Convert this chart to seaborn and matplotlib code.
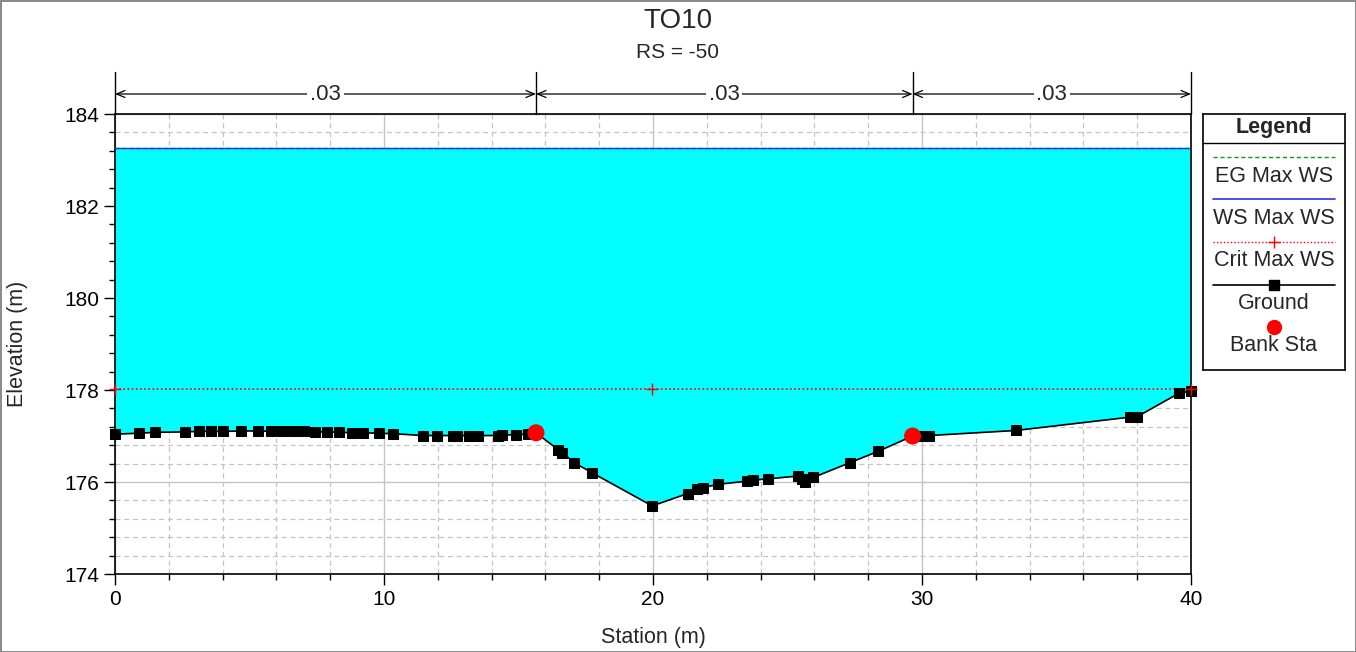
import numpy as np
import pandas as pd
import matplotlib
matplotlib.use("Agg")
import matplotlib.pyplot as plt
import seaborn as sns
from matplotlib.ticker import MultipleLocator
from matplotlib.transforms import blended_transform_factory

# ---------------- data ----------------
ground_sta = [0.00, 0.89, 1.49, 2.60, 3.12, 3.57, 4.03, 4.68, 5.33, 5.79, 6.22, 6.63, 7.04,
              7.45, 7.87, 8.33, 8.80, 9.23, 9.83, 10.35, 11.46, 11.96, 12.55, 12.70, 13.15,
              13.51, 14.23, 14.38, 14.91, 15.36, 15.65, 16.48, 16.63, 17.07, 17.74, 19.97,
              21.29, 21.62, 21.85, 22.43, 23.51, 23.71, 24.29, 25.40, 25.55, 25.65, 25.96,
              27.32, 28.38, 29.65, 29.95, 30.26, 33.48, 37.73, 38.00, 39.55, 40.00]
ground_elev = [177.04, 177.06, 177.08, 177.09, 177.10, 177.10, 177.10, 177.11, 177.11, 177.10,
               177.10, 177.10, 177.10, 177.09, 177.09, 177.08, 177.07, 177.07, 177.06, 177.05,
               177.01, 177.01, 177.01, 177.01, 177.01, 177.01, 177.01, 177.02, 177.03, 177.04,
               177.07, 176.70, 176.64, 176.42, 176.20, 175.48, 175.75, 175.84, 175.88, 175.95,
               176.02, 176.04, 176.07, 176.13, 176.07, 176.01, 176.10, 176.42, 176.67, 177.00,
               177.01, 177.01, 177.12, 177.41, 177.42, 177.93, 177.98]
bank_sta = [15.65, 29.65]
bank_elev = [177.07, 177.00]
ws_elev = 183.26
eg_elev = 183.27
crit_sta = [0.0, 19.97, 40.0]
crit_elev = [178.02, 178.02, 178.02]
mann_breaks = [0.0, 15.65, 29.65, 40.0]
mann_n = [".03", ".03", ".03"]
title = "TO10"
subtitle = "RS = -50"
legend_labels = ["EG Max WS", "WS Max WS", "Crit Max WS", "Ground", "Bank Sta"]

# ---------------- style ----------------
sns.set_style("ticks")
plt.rcParams["font.family"] = ["Liberation Sans", "DejaVu Sans"]
FS = 15

W, H = 1356, 652
fig = plt.figure(figsize=(W / 100, H / 100), dpi=100)
fig.patch.set_edgecolor("#8c8c8c")
fig.patch.set_linewidth(2)

ax = fig.add_axes([115 / W, 1 - 574 / H, 1076 / W, 460 / H])

ground = pd.DataFrame({"Station": ground_sta, "Elevation": ground_elev})

# water fill
ax.fill_between(ground_sta, ground_elev, ws_elev, color="#00ffff", lw=0, zorder=2)

# EG / WS / Crit lines
sns.lineplot(x=[0, 40], y=[eg_elev, eg_elev], ax=ax, color="#119911", lw=1,
             linestyle=(0, (3, 2)), zorder=3)
sns.lineplot(x=[0, 40], y=[ws_elev, ws_elev], ax=ax, color="#2233ee", lw=1, zorder=3)
ax.plot([0, 40], [crit_elev[0], crit_elev[0]], color="red", lw=1.2, ls=(0, (1, 1.5)),
        zorder=3)
ax.plot(crit_sta, crit_elev, ls="none", marker="+", ms=9, mew=1, color="red", zorder=6,
        clip_on=False)

# ground
sns.lineplot(data=ground, x="Station", y="Elevation", ax=ax, sort=False, estimator=None,
             color="black", lw=1.2, marker="s", markersize=7, markeredgecolor="black",
             markerfacecolor="black", zorder=4, clip_on=False)
# bank stations
sns.scatterplot(x=bank_sta, y=bank_elev, ax=ax, color="red", s=150, edgecolor="none",
                zorder=5)

ax.set_xlim(0, 40)
ax.set_ylim(174, 184)
ax.xaxis.set_major_locator(MultipleLocator(10))
ax.xaxis.set_minor_locator(MultipleLocator(2))
ax.yaxis.set_major_locator(MultipleLocator(2))
ax.yaxis.set_minor_locator(MultipleLocator(0.4))
ax.set_axisbelow(True)
ax.grid(which="major", color="#c4c4c4", lw=1, ls="-", zorder=0)
ax.grid(which="minor", color="#c4c4c4", lw=0.9, ls=(0, (4, 3)), zorder=0)
for s in ax.spines.values():
    s.set_color("black")
    s.set_linewidth(1.2)
ax.tick_params(which="major", direction="out", length=8, width=1, color="black",
               labelsize=FS, labelcolor="black")
ax.tick_params(which="minor", direction="out", length=4, width=1, color="black")

ax.set_xlabel("Station (m)", fontsize=15.5)
ax.set_ylabel("Elevation (m)", fontsize=15.5)
ax.xaxis.label.set_va("center")
ax.yaxis.label.set_va("center")
ax.xaxis.set_label_coords(0.5, (574 - 638) / 460)
ax.yaxis.set_label_coords((18 - 115) / 1076, 0.5)

# Manning's n annotations
trans = blended_transform_factory(ax.transData, ax.transAxes)
y_arrow = (574 - 94) / 460
y_top = (574 - 72) / 460
for b in mann_breaks:
    ax.plot([b, b], [1.0, y_top], transform=trans, color="black", lw=1, clip_on=False)
for i, n in enumerate(mann_n):
    a, b = mann_breaks[i], mann_breaks[i + 1]
    ax.annotate("", xy=(a, y_arrow), xytext=(b, y_arrow), xycoords=trans, textcoords=trans,
                arrowprops=dict(arrowstyle="<->,head_length=0.6,head_width=0.25",
                                color="black", lw=0.9, shrinkA=0, shrinkB=0))
    ax.text((a + b) / 2, y_arrow, n, transform=trans, ha="center", va="center", fontsize=16,
            bbox=dict(fc="white", ec="none", pad=2))

fig.text(0.5, 1 - 21 / H, title, ha="center", va="center", fontsize=20)
fig.text(0.5, 1 - 53 / H, subtitle, ha="center", va="center", fontsize=FS)

# ---------------- custom legend ----------------
lax = fig.add_axes([1203 / W, 1 - 370 / H, 142 / W, 256 / H])
lax.set_xlim(0, 142)
lax.set_ylim(256, 0)
lax.set_xticks([])
lax.set_yticks([])
lax.set_facecolor("white")
for s in lax.spines.values():
    s.set_color("black")
    s.set_linewidth(1.2)
lax.text(71, 13.5, "Legend", ha="center", va="center", fontsize=15.5, fontweight="bold")
lax.axhline(28.7, color="black", lw=1)
lax.plot([10, 132], [42.7, 42.7], color="#119911", lw=1, ls=(0, (3, 2)))
lax.text(71, 62, legend_labels[0], ha="center", va="center", fontsize=15.5)
lax.plot([10, 132], [85.3, 85.3], color="#2233ee", lw=1.2)
lax.text(71, 104.5, legend_labels[1], ha="center", va="center", fontsize=15.5)
lax.plot([10, 132], [127.7, 127.7], color="red", lw=1.0, ls=(0, (1, 1.5)))
lax.plot([71], [127.7], marker="+", ms=9, mew=1, color="red")
lax.text(71, 146.5, legend_labels[2], ha="center", va="center", fontsize=15.5)
lax.plot([10, 132], [171, 171], color="black", lw=1.2)
lax.plot([71], [171], marker="s", ms=7, color="black")
lax.text(71, 189.5, legend_labels[3], ha="center", va="center", fontsize=15.5)
lax.plot([71], [212.7], marker="o", ms=11, color="red", mec="none")
lax.text(71, 231, legend_labels[4], ha="center", va="center", fontsize=15.5)

fig.savefig("out.png", dpi=100, edgecolor=fig.get_edgecolor())
